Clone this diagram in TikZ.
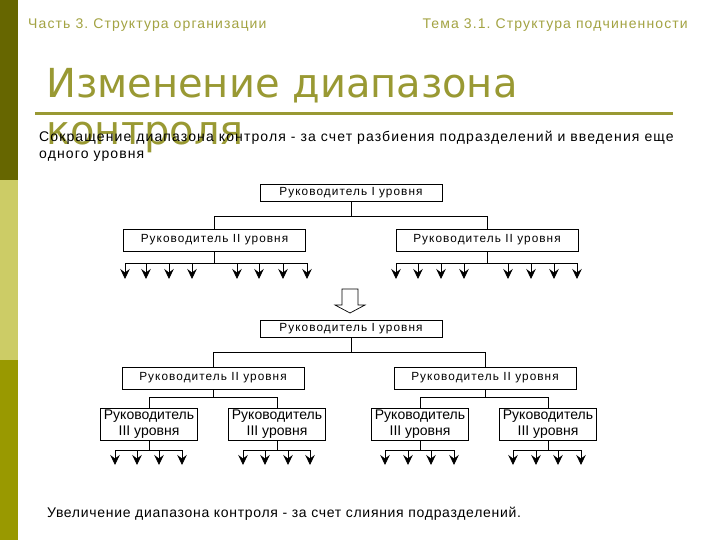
\documentclass[tikz,border=0pt]{standalone}
\usepackage{fontspec}
\setmainfont{Liberation Sans}
\newfontfamily\titlefont{DejaVu Sans}
\newfontfamily\spfont[LetterSpace=8]{Liberation Sans}
\newfontfamily\lowfont[LetterSpace=5]{Liberation Sans}
\newfontfamily\boxfont[LetterSpace=9]{Liberation Sans}
\usetikzlibrary{arrows.meta}
\definecolor{stripedark}{HTML}{666600}
\definecolor{stripelight}{HTML}{CCCC66}
\definecolor{stripemid}{HTML}{999900}
\definecolor{titlecol}{HTML}{999933}
\definecolor{headcol}{HTML}{A3A342}
\tikzset{
  box/.style={draw=black, line width=0.8pt, fill=white, inner sep=0pt, align=center},
  boxone/.style={box, font=\boxfont\fontsize{11.8}{14}\selectfont, minimum width=182pt, minimum height=17pt},
  boxtwo/.style={box, font=\boxfont\fontsize{11.8}{14}\selectfont, minimum width=182pt, minimum height=22pt},
  boxthree/.style={box, font=\fontsize{14}{16.5}\selectfont, minimum width=97pt, minimum height=32pt},
  conn/.style={draw=black, line width=0.8pt},
  leaf/.style={conn, -{Stealth[length=10pt,width=9.5pt,inset=3.5pt]}},
  plaintext/.style={anchor=base west, inner sep=0pt, font=\spfont\fontsize{14}{16}\selectfont},
}
\begin{document}
\frenchspacing
\begin{tikzpicture}[x=1pt,y=-1pt]
\useasboundingbox (0,0) rectangle (720,540);
\fill[white] (0,0) rectangle (720,540);
% left stripe
\fill[stripedark] (0,0) rectangle (18,180);
\fill[stripelight] (0,180) rectangle (18,360);
\fill[stripemid] (0,360) rectangle (18,540);
% headers
\node[plaintext, text=headcol] (h1) at (28,29) {Часть 3. Структура организации};
\node[plaintext, anchor=base east, text=headcol] (h2) at (688,29) {Тема 3.1. Структура подчиненности};
% title
\node[anchor=base west, inner sep=0pt, text=titlecol, font=\titlefont\fontsize{40}{47}\selectfont] (t1) at (46,98) {Изменение диапазона};
\node[anchor=base west, inner sep=0pt, text=titlecol, font=\titlefont\fontsize{40}{47}\selectfont] (t2) at (46,145) {контроля};
\draw[titlecol, line width=3pt] (35,114) -- (673,114);
% subtitle
\node[plaintext] (s1) at (39,142) {Сокращение диапазона контроля - за счет разбиения подразделений и введения еще};
\node[plaintext] (s2) at (39,159) {одного уровня};
% top tree
\node[boxone] (a1) at (351,192.5) {Руководитель I уровня};
\node[boxtwo] (b1) at (214.5,240) {Руководитель II уровня};
\node[boxtwo] (b2) at (487,240) {Руководитель II уровня};
\coordinate (ja) at (351,216);
\draw[conn] (a1.south) -- (ja);
\draw[conn] (ja) -| (b1.north);
\draw[conn] (ja) -| (b2.north);
\coordinate (jb1) at (214.5,263);
\coordinate (jb2) at (487,263);
\draw[conn] (b1.south) -- (jb1);
\draw[conn] (b2.south) -- (jb2);
\draw[conn] (125,263) -- (307,263);
\draw[conn] (396,263) -- (577,263);
\foreach \x [count=\i] in {125,146,169,192,237,259,283,307}{
  \coordinate (lb1s\i) at (\x,263);
  \coordinate (lb1e\i) at (\x,279);
  \draw[leaf] (lb1s\i) -- (lb1e\i);
}
\foreach \x [count=\i] in {396,418,441,464,508,531,554,577}{
  \coordinate (lb2s\i) at (\x,263);
  \coordinate (lb2e\i) at (\x,279);
  \draw[leaf] (lb2s\i) -- (lb2e\i);
}
% hollow arrow
\draw[black, line width=0.7pt, fill=white, line join=miter] (342,289) -- (358,289) -- (358,305) -- (365,305) -- (350,313) -- (335,305) -- (342,305) -- cycle;
% bottom tree
\node[boxone] (c1) at (351,328.5) {Руководитель I уровня};
\node[boxtwo] (d1) at (213,378) {Руководитель II уровня};
\node[boxtwo] (d2) at (485,378) {Руководитель II уровня};
\coordinate (jc) at (351,352);
\draw[conn] (c1.south) -- (jc);
\draw[conn] (jc) -| (d1.north);
\draw[conn] (jc) -| (d2.north);
\node[boxthree] (e1) at (149,424) {Руководитель\\III уровня};
\node[boxthree] (e2) at (277,424) {Руководитель\\III уровня};
\node[boxthree] (e3) at (420,424) {Руководитель\\III уровня};
\node[boxthree] (e4) at (548,424) {Руководитель\\III уровня};
\coordinate (jd1) at (213,397);
\coordinate (jd2) at (485,397);
\draw[conn] (d1.south) -- (jd1);
\draw[conn] (d2.south) -- (jd2);
\draw[conn] (jd1) -| (e1.north);
\draw[conn] (jd1) -| (e2.north);
\draw[conn] (jd2) -| (e3.north);
\draw[conn] (jd2) -| (e4.north);
\foreach \e/\xs in {e1/{115,137,159,182}, e2/{243,265,288,310}, e3/{385,408,431,454}, e4/{513,536,558,581}}{
  \coordinate (j\e) at (\e.south |- 0,450);
  \draw[conn] (\e.south) -- (j\e);
  \foreach \x [count=\i] in \xs {
    \coordinate (l\e s\i) at (\x,450);
    \coordinate (l\e e\i) at (\x,465);
    \draw[leaf] (l\e s\i) -- (l\e e\i);
  }
}
\draw[conn] (115,450) -- (182,450);
\draw[conn] (243,450) -- (310,450);
\draw[conn] (385,450) -- (454,450);
\draw[conn] (513,450) -- (581,450);
% bottom text
\node[plaintext, font=\lowfont\fontsize{14}{16}\selectfont] (bt) at (47,517) {Увеличение диапазона контроля - за счет слияния подразделений.};
\end{tikzpicture}
\end{document}
